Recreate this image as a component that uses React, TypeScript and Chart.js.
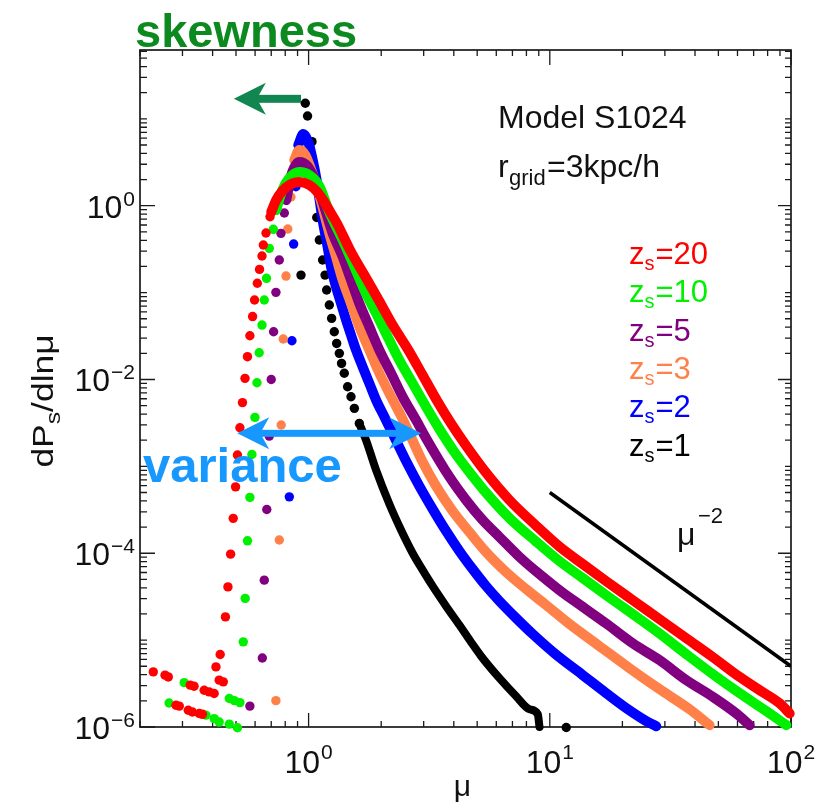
import React, { useEffect, useRef } from "react";
import { Chart, registerables } from "chart.js";

Chart.register(...registerables);

type Pt = [number, number];

const FONT = '"Liberation Sans", Arial, Helvetica, sans-serif';

// axis ranges and labelled decades
const X_MIN = 0.2;
const X_MAX = 100;
const Y_MIN = 1e-6;
const Y_MAX = 62;
const xLabelExps = [0, 1, 2];
const yLabelExps = [0, -2, -4, -6];

// ---- z_s = 20 (red)
const z20Tail: Pt[] = [
  [0.227, 4.31e-6], [0.254, 3.95e-6], [0.262, 3.77e-6], [0.282, 1.78e-6], [0.291, 1.74e-6],
  [0.317, 1.56e-6], [0.323, 3.03e-6], [0.33, 1.49e-6], [0.335, 2.95e-6], [0.352, 1.43e-6],
  [0.363, 1.4e-6], [0.369, 2.65e-6], [0.387, 2.54e-6], [0.406, 2.43e-6], [0.413, 4.92e-6],
  [0.426, 3.46e-6], [0.43, 6.84e-6], [0.443, 3.31e-6], [0.452, 1.85e-5], [0.463, 4.1e-5],
  [0.475, 9.76e-5], [0.487, 2.52e-4], [0.498, 5.81e-4], [0.507, 1.35e-3], [0.519, 2.78e-3],
  [0.532, 5.42e-3], [0.545, 1.03e-2], [0.558, 1.83e-2], [0.571, 3.19e-2], [0.586, 5.3e-2],
  [0.597, 8.21e-2], [0.613, 0.128], [0.626, 0.185], [0.641, 0.264], [0.649, 0.353],
  [0.666, 0.485], [0.692, 0.747],
];
const z20Body: Pt[] = [
  [0.7, 0.846], [0.734, 1.163], [0.778, 1.476], [0.832, 1.731], [0.915, 1.874], [1.007, 1.731],
  [1.087, 1.438], [1.162, 1.103], [1.23, 0.846], [1.315, 0.616], [1.485, 0.309], [1.703, 0.159],
  [1.952, 0.0821], [2.231, 0.0423], [2.593, 0.0218], [2.972, 0.0112], [3.397, 5.79e-3],
  [3.909, 3.07e-3], [4.512, 1.71e-3], [5.461, 8.36e-4], [6.805, 4.09e-4], [8.725, 2.11e-4],
  [10.97, 1.19e-4], [13.71, 7.49e-5], [17.14, 4.77e-5], [22.1, 2.88e-5], [28.52, 1.74e-5],
  [36.81, 1.05e-5], [47.47, 6.36e-6], [61.24, 3.77e-6], [74.17, 2.65e-6], [89.8, 1.87e-6],
  [98.76, 1.43e-6],
];

// ---- z_s = 10 (green)
const z10Tail: Pt[] = [
  [0.264, 1.89e-6], [0.305, 3.24e-6], [0.375, 1.37e-6], [0.406, 1.25e-6], [0.426, 1.14e-6],
  [0.469, 1.08e-6], [0.507, 0.98e-6], [0.469, 2.13e-6], [0.492, 2.01e-6], [0.519, 1.91e-6],
  [0.536, 9.55e-6], [0.546, 3.02e-5], [0.558, 1.39e-4], [0.571, 4.39e-4], [0.582, 1.37e-3],
  [0.599, 3.66e-3], [0.611, 9.16e-3], [0.624, 2.03e-2], [0.641, 4.23e-2], [0.655, 8.21e-2],
  [0.669, 0.146], [0.687, 0.323], [0.714, 0.535],
];
const z10Body: Pt[] = [
  [0.734, 0.892], [0.778, 1.516], [0.832, 2.084], [0.915, 2.443], [1.007, 2.257], [1.108, 1.686],
  [1.219, 0.846], [1.384, 0.403], [1.548, 0.1985], [1.703, 0.107], [1.905, 0.0577],
  [2.127, 0.031], [2.378, 0.0167], [2.701, 9.02e-3], [3.069, 4.85e-3], [3.485, 2.69e-3],
  [4.024, 1.46e-3], [4.644, 8.59e-4], [5.461, 4.92e-4], [6.805, 2.54e-4], [8.725, 1.38e-4],
  [10.97, 8.11e-5], [13.71, 5.17e-5], [17.14, 3.29e-5], [22.1, 1.99e-5], [28.52, 1.19e-5],
  [36.81, 6.89e-6], [47.47, 4.05e-6], [61.24, 2.45e-6], [79.06, 1.52e-6], [95.7, 1.05e-6],
];

// ---- z_s = 5 (purple)
const z5Tail: Pt[] = [
  [0.571, 1.74e-6], [0.643, 6.23e-6], [0.655, 4.9e-5], [0.671, 3.19e-4], [0.687, 2.23e-3],
  [0.7, 1.0e-2], [0.716, 3.54e-2], [0.732, 0.1007], [0.756, 0.237], [0.768, 0.481], [0.793, 0.824],
];
const z5Body: Pt[] = [
  [0.808, 1.163], [0.848, 2.257], [0.915, 3.186], [0.988, 2.865], [1.087, 1.731], [1.173, 0.892],
  [1.258, 0.481], [1.384, 0.2587], [1.499, 0.1395], [1.623, 0.0752], [1.786, 0.0404],
  [1.966, 0.0218], [2.198, 0.0118], [2.455, 6.32e-3], [2.79, 3.41e-3], [3.069, 2.11e-3],
  [3.835, 7.58e-4], [4.499, 4.09e-4], [5.272, 2.4e-4], [6.184, 1.54e-4], [7.485, 9.09e-5],
  [9.065, 5.74e-5], [10.97, 3.76e-5], [13.71, 2.41e-5], [17.14, 1.55e-5], [22.1, 9.15e-6],
  [28.52, 5.87e-6], [36.81, 3.46e-6], [47.47, 2.22e-6], [59.34, 1.43e-6], [67.4, 1.05e-6],
];

// ---- z_s = 3 (orange)
const z3Tail: Pt[] = [
  [0.732, 2.01e-6], [0.756, 1.42e-4], [0.77, 2.99e-3], [0.785, 2.92e-2], [0.806, 0.155],
  [0.82, 0.539], [0.845, 1.26],
];
const z3Body: Pt[] = [
  [0.872, 3.36], [0.915, 4.377], [0.969, 3.835], [1.026, 2.577], [1.108, 1.328], [1.219, 0.481],
  [1.299, 0.2587], [1.384, 0.1395], [1.499, 0.0752], [1.623, 0.0404], [1.786, 0.0218],
  [1.966, 0.0118], [2.198, 6.32e-3], [2.455, 3.5e-3], [2.66, 2.17e-3], [2.972, 1.12e-3],
  [3.378, 5.92e-4], [3.958, 3.05e-4], [4.644, 1.75e-4], [5.445, 1.03e-4], [6.594, 6.06e-5],
  [7.981, 3.86e-5], [9.663, 2.53e-5], [12.07, 1.53e-5], [16.08, 8.52e-6], [21.41, 4.75e-6],
  [28.52, 2.72e-6], [37.99, 1.6e-6], [45.99, 1.05e-6],
];

// ---- z_s = 2 (blue)
const z2Tail: Pt[] = [[0.832, 4.46e-4], [0.853, 2.79e-2], [0.867, 0.362], [0.886, 1.655]];
const z2Body: Pt[] = [
  [0.906, 5.0], [0.951, 6.69], [0.997, 5.41], [1.036, 3.54], [1.076, 2.084], [1.108, 1.226],
  [1.143, 0.684], [1.199, 0.337], [1.239, 0.1985], [1.299, 0.1168], [1.363, 0.0752],
  [1.43, 0.0483], [1.499, 0.0325], [1.573, 0.0218], [1.675, 0.014], [1.786, 9.02e-3],
  [1.905, 5.79e-3], [2.061, 3.72e-3], [2.231, 2.39e-3], [2.536, 1.15e-3], [2.879, 5.92e-4],
  [3.269, 3.22e-4], [3.716, 1.8e-4], [4.22, 1.06e-4], [4.791, 6.56e-5], [5.445, 4.18e-5],
  [6.184, 2.81e-5], [7.253, 1.79e-5], [8.503, 1.17e-5], [10.56, 6.89e-6], [13.71, 3.95e-6],
  [17.14, 2.45e-6], [20.75, 1.65e-6], [25.12, 1.17e-6], [27.64, 1.02e-6],
];

// ---- z_s = 1 (black)
const z1Tail: Pt[] = [
  [0.93, 0.159], [0.969, 15.1], [0.99, 10.79], [1.033, 5.46], [1.081, 0.731], [1.108, 0.403],
  [1.143, 0.237], [1.17, 0.159], [1.188, 0.107], [1.219, 0.0719], [1.246, 0.0505],
  [1.278, 0.0354], [1.307, 0.026], [1.341, 0.02], [1.37, 0.0153], [1.406, 0.0118],
  [1.451, 8.24e-3], [1.499, 6.32e-3], [1.548, 4.65e-3], [1.623, 3.12e-3], [11.7, 0.987e-6],
];
const z1Body: Pt[] = [
  [1.623, 3.12e-3], [1.73, 2.01e-3], [1.905, 9.05e-4], [2.162, 3.68e-4], [2.417, 1.85e-4],
  [2.701, 1.0e-4], [2.972, 6.39e-5], [3.269, 4.18e-5], [3.716, 2.46e-5], [4.22, 1.49e-5],
  [4.719, 9.47e-6], [5.193, 6.53e-6], [6.184, 3.65e-6], [7.253, 2.26e-6], [8.239, 1.6e-6],
  [8.918, 1.4e-6], [9.065, 1.0e-6],
];

// reference power law mu^-2
const powerLaw: Pt[] = [[10, 5e-4], [100, 5e-6]];

// legend
const legendZ = ["20", "10", "5", "3", "2", "1"];
const legendColors = ["#ff0000", "#00f000", "#800080", "#ff8048", "#0000ff", "#000000"];

// annotation arrows (data coordinates)
const skewArrow = { from: 0.93, to: 0.49, level: 17 };
const varArrow = { from: 0.506, to: 2.93, level: 2.4e-3 };

const toXY = (pts: Pt[]) => pts.map(([x, y]) => ({ x, y }));

function series(body: Pt[], tail: Pt[], color: string, width: number) {
  return [
    {
      data: toXY(body),
      showLine: true,
      borderColor: color,
      backgroundColor: color,
      borderWidth: width,
      borderCapStyle: "round",
      borderJoinStyle: "round",
      cubicInterpolationMode: "monotone",
      pointRadius: 0,
      clip: 8,
    },
    {
      data: toXY(tail),
      showLine: false,
      backgroundColor: color,
      borderColor: color,
      borderWidth: 0,
      pointRadius: 4.7,
      clip: 8,
    },
  ];
}

function arrowHead(ctx: CanvasRenderingContext2D, tipX: number, y: number, dir: number) {
  const L = 32, H = 16, N = 9;
  ctx.beginPath();
  ctx.moveTo(tipX, y);
  ctx.lineTo(tipX - dir * L, y - H);
  ctx.lineTo(tipX - dir * (L - N), y);
  ctx.lineTo(tipX - dir * L, y + H);
  ctx.closePath();
  ctx.fill();
}

const framePlugin = {
  id: "frameTicks",
  beforeDatasetsDraw(chart: any) {
    const { ctx, chartArea: a } = chart;
    const xs = chart.scales.x;
    const ys = chart.scales.y;
    ctx.save();
    ctx.strokeStyle = "#1a1a1a";
    ctx.lineWidth = 1.7;
    ctx.strokeRect(a.left, a.top, a.right - a.left, a.bottom - a.top);
    ctx.lineWidth = 1.3;
    ctx.beginPath();
    for (let k = -1; k <= 2; k++) {
      for (let m = 1; m < 10; m++) {
        const v = m * Math.pow(10, k);
        if (v < X_MIN * 0.999 || v > X_MAX * 1.001) continue;
        const px = xs.getPixelForValue(v);
        const major = m === 1;
        ctx.moveTo(px, a.bottom);
        ctx.lineTo(px, a.bottom - (major ? 14 : 6));
        ctx.moveTo(px, a.top);
        ctx.lineTo(px, a.top + (major ? 15 : 6));
      }
    }
    for (let k = -6; k <= 1; k++) {
      for (let m = 1; m < 10; m++) {
        const v = m * Math.pow(10, k);
        if (v < Y_MIN * 0.999 || v > Y_MAX * 1.001) continue;
        const py = ys.getPixelForValue(v);
        const major = m === 1 && Math.abs(k) % 2 === 0;
        ctx.moveTo(a.left, py);
        ctx.lineTo(a.left + (major ? 15 : 7), py);
        ctx.moveTo(a.right, py);
        ctx.lineTo(a.right - (major ? 13 : 6), py);
      }
    }
    ctx.stroke();

    // tick labels
    ctx.fillStyle = "#111";
    ctx.textBaseline = "alphabetic";
    ctx.textAlign = "left";
    for (const e of yLabelExps) {
      const py = ys.getPixelForValue(Math.pow(10, e));
      const sup = e === 0 ? "0" : "\u2212" + Math.abs(e);
      ctx.font = `21px ${FONT}`;
      const sw = ctx.measureText(sup).width;
      ctx.font = `32px ${FONT}`;
      const tw = ctx.measureText("10").width;
      const right = a.left - 5;
      ctx.fillText("10", right - sw - 1 - tw, py + 12);
      ctx.font = `21px ${FONT}`;
      ctx.fillText(sup, right - sw, py);
    }
    for (const e of xLabelExps) {
      const px = xs.getPixelForValue(Math.pow(10, e));
      const sup = String(e);
      ctx.font = `21px ${FONT}`;
      const sw = ctx.measureText(sup).width;
      ctx.font = `32px ${FONT}`;
      const tw = ctx.measureText("10").width;
      const left = px - (tw + 1 + sw) / 2;
      ctx.fillText("10", left, a.bottom + 46);
      ctx.font = `21px ${FONT}`;
      ctx.fillText(sup, left + tw + 1, a.bottom + 32);
    }

    // axis titles
    ctx.font = `30px ${FONT}`;
    ctx.textAlign = "center";
    ctx.fillText("\u03bc", (a.left + a.right) / 2 - 3, a.bottom + 69);

    ctx.save();
    ctx.translate(53, 401);
    ctx.rotate(-Math.PI / 2);
    ctx.scale(1.18, 1);
    ctx.textAlign = "left";
    ctx.font = `30px ${FONT}`;
    const w1 = ctx.measureText("dP").width;
    const w3 = ctx.measureText("/dln\u03bc").width;
    ctx.font = `21px ${FONT}`;
    const w2 = ctx.measureText("s").width;
    let x0 = -(w1 + w2 + w3) / 2;
    ctx.font = `30px ${FONT}`;
    ctx.fillText("dP", x0, 0);
    x0 += w1;
    ctx.font = `21px ${FONT}`;
    ctx.fillText("s", x0, 7);
    x0 += w2;
    ctx.font = `30px ${FONT}`;
    ctx.fillText("/dln\u03bc", x0, 0);
    ctx.restore();
    ctx.restore();
  },
  afterDatasetsDraw(chart: any) {
    const { ctx } = chart;
    const xs = chart.scales.x;
    const ys = chart.scales.y;
    ctx.save();

    // skewness arrow
    ctx.fillStyle = "rgb(18,134,80)";
    const sy = ys.getPixelForValue(skewArrow.level);
    const sTip = xs.getPixelForValue(skewArrow.to);
    const sTail = xs.getPixelForValue(skewArrow.from);
    ctx.fillRect(sTip + 22, sy - 4, sTail - sTip - 22, 8);
    arrowHead(ctx, sTip, sy, -1);

    // variance double arrow
    ctx.fillStyle = "rgb(22,152,255)";
    const vy = ys.getPixelForValue(varArrow.level);
    const vl = xs.getPixelForValue(varArrow.from);
    const vr = xs.getPixelForValue(varArrow.to);
    ctx.fillRect(vl + 22, vy - 3.5, vr - vl - 44, 7);
    arrowHead(ctx, vl, vy, -1);
    arrowHead(ctx, vr, vy, 1);

    ctx.textBaseline = "alphabetic";
    ctx.textAlign = "left";
    ctx.font = `bold 47px ${FONT}`;
    ctx.fillStyle = "rgb(12,138,32)";
    ctx.fillText("skewness", 135, 47);
    ctx.font = `bold 49px ${FONT}`;
    ctx.fillStyle = "rgb(22,152,255)";
    ctx.fillText("variance", 143, 482);

    // model text
    ctx.fillStyle = "#111";
    ctx.font = `32px ${FONT}`;
    ctx.fillText("Model S1024", 498, 128);
    ctx.fillText("r", 498, 177);
    ctx.font = `22px ${FONT}`;
    ctx.fillText("grid", 509, 185);
    ctx.font = `32px ${FONT}`;
    ctx.fillText("=3kpc/h", 547, 177);

    // legend
    legendZ.forEach((z, i) => {
      const base = 264 + i * 38.3;
      ctx.fillStyle = legendColors[i];
      ctx.font = `31px ${FONT}`;
      ctx.fillText("z", 629, base);
      const zw = ctx.measureText("z").width;
      ctx.font = `20px ${FONT}`;
      ctx.fillText("s", 629 + zw, base + 6);
      const sw = ctx.measureText("s").width;
      ctx.font = `31px ${FONT}`;
      ctx.fillText("=" + z, 629 + zw + sw + 1, base);
    });

    // power-law label
    ctx.fillStyle = "#111";
    ctx.font = `32px ${FONT}`;
    ctx.fillText("\u03bc", 677, 545);
    ctx.font = `22px ${FONT}`;
    ctx.fillText("\u22122", 698, 523);
    ctx.restore();
  },
};

export default function App() {
  const ref = useRef<HTMLCanvasElement>(null);
  useEffect(() => {
    if (!ref.current) return;
    const datasets: any[] = [
      {
        data: toXY(powerLaw),
        showLine: true,
        borderColor: "#000",
        borderWidth: 3.5,
        pointRadius: 0,
        tension: 0,
      },
      ...series(z20Body, z20Tail, legendColors[0], 10),
      ...series(z10Body, z10Tail, legendColors[1], 10),
      ...series(z5Body, z5Tail, legendColors[2], 10),
      ...series(z3Body, z3Tail, legendColors[3], 10),
      ...series(z2Body, z2Tail, legendColors[4], 10),
      ...series(z1Body, z1Tail, legendColors[5], 8),
    ];
    const chart = new Chart(ref.current, {
      type: "scatter",
      data: { datasets },
      options: {
        animation: false,
        responsive: false,
        devicePixelRatio: 1,
        events: [],
        layout: { padding: { left: 0, right: 29, top: 50, bottom: 0 } },
        plugins: { legend: { display: false }, tooltip: { enabled: false } },
        scales: {
          x: {
            type: "logarithmic",
            min: X_MIN,
            max: X_MAX,
            bounds: "data",
            grid: { display: false },
            border: { display: false },
            ticks: { display: false },
            afterFit: (s: any) => {
              s.height = 77;
            },
          },
          y: {
            type: "logarithmic",
            min: Y_MIN,
            max: Y_MAX,
            bounds: "data",
            grid: { display: false },
            border: { display: false },
            ticks: { display: false },
            afterFit: (s: any) => {
              s.width = 140;
            },
          },
        },
      } as any,
      plugins: [framePlugin],
    });
    return () => chart.destroy();
  }, []);
  return (
    <div style={{ position: "absolute", left: 0, top: 0, width: 820, height: 804, background: "#fff" }}>
      <canvas ref={ref} width={820} height={804} style={{ display: "block", width: 820, height: 804 }} />
    </div>
  );
}
